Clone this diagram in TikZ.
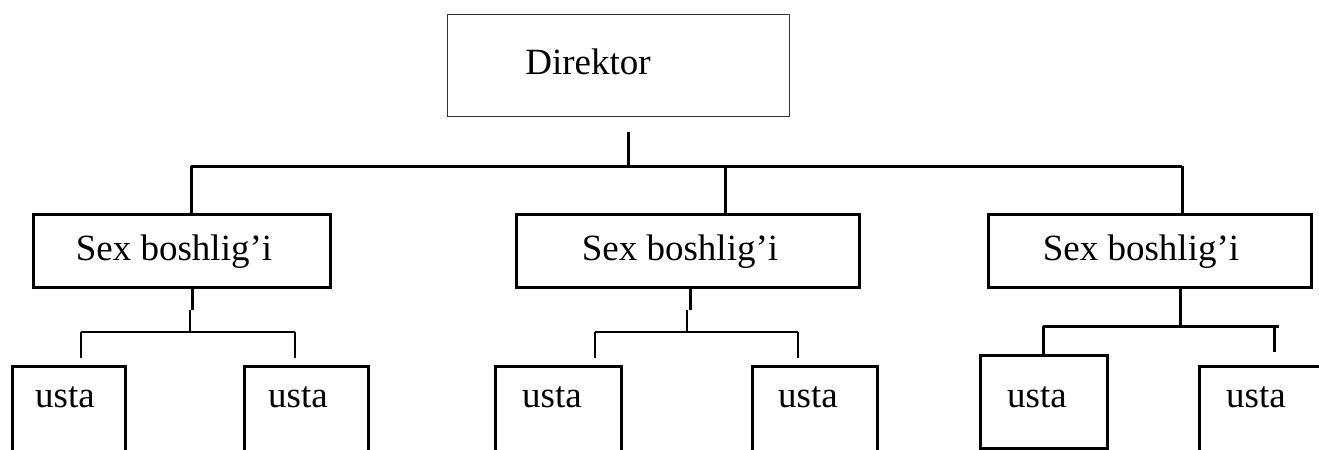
\documentclass[tikz,border=0pt]{standalone}
\usepackage{fontspec}
\setmainfont{Liberation Serif}

\begin{document}
\begin{tikzpicture}[x=0.5pt,y=-0.5pt,
    box/.style={draw,line width=1.5pt,inner sep=0pt},
    txt/.style={anchor=base,inner sep=0pt,font=\fontsize{18.5}{22}\selectfont},
    thickline/.style={line width=1.5pt},
    thinline/.style={line width=0.65pt}]
    \path[use as bounding box] (0,0) rectangle (1319,450);
    \clip (0,0) rectangle (1319,450);
    %% Draw the boxes
    \node[box,draw=black!80,line width=0.5pt,minimum width=171pt,minimum height=51pt] (dir) at (618,65) {};
    \node[box,minimum width=148.5pt,minimum height=36.5pt] (sb1) at (181.5,250.5) {};
    \node[box,minimum width=171.5pt,minimum height=36.5pt] (sb2) at (687.5,250.5) {};
    \node[box,minimum width=161.5pt,minimum height=36.5pt] (sb3) at (1149.5,250.5) {};
    \node[box,minimum width=56.5pt,minimum height=52pt] (us1) at (68.5,418) {};
    \node[box,minimum width=62pt,minimum height=52pt] (us2) at (306,418) {};
    \node[box,minimum width=63pt,minimum height=52pt] (us3) at (558,418) {};
    \node[box,minimum width=62.5pt,minimum height=52pt] (us4) at (814.5,418) {};
    \node[box,minimum width=63.5pt,minimum height=46.5pt] (us5) at (1043.5,401.5) {};
    \node[box,minimum width=70.5pt,minimum height=52pt] (us6) at (1269.5,418) {};
    %% Draw the texts
    \node[txt] (dirt) at (588,74) {Direktor};
    \node[txt] (sb1t) at (174,260) {Sex boshlig’i};
    \node[txt] (sb2t) at (680,260) {Sex boshlig’i};
    \node[txt] (sb3t) at (1141,260) {Sex boshlig’i};
    \node[txt] (us1t) at (65,407) {usta};
    \node[txt] (us2t) at (298,407) {usta};
    \node[txt] (us3t) at (552,407) {usta};
    \node[txt] (us4t) at (808,407) {usta};
    \node[txt] (us5t) at (1037,407) {usta};
    \node[txt] (us6t) at (1256,407) {usta};
    %% Draw the junctions
    \coordinate (top) at (628,132);
    \coordinate (bus) at (628,166);
    \coordinate (bl) at (191,166);
    \coordinate (bm) at (725,166);
    \coordinate (br) at (1182,166);
    \coordinate (s1) at (192,287);
    \coordinate (k1) at (192,310);
    \coordinate (s2) at (690,287);
    \coordinate (k2) at (690,310);
    \coordinate (k3) at (1180,326);
    \coordinate (l1) at (81,332);
    \coordinate (r1) at (295,332);
    \coordinate (l2) at (595,332);
    \coordinate (r2) at (798,332);
    \coordinate (l3) at (1043,326);
    \coordinate (r3) at (1279,326);
    \coordinate (d3) at (1274,326);
    %% Draw the edges
    \begin{scope}[every path/.style={thickline}]
      \draw (top) -- (bus);
      \draw (bl) -- (br);
      \draw (bl) -- (bl |- sb1.north);
      \draw (bm) -- (bm |- sb2.north);
      \draw (br) -- (br |- sb3.north);
      \draw (s1) -- (k1);
      \draw (s2) -- (k2);
      \draw (k3 |- sb3.south) -- (k3);
      \draw (l3) -- (r3);
      \draw (l3) -- (l3 |- us5.north);
      \draw (d3) -- ++(0,26);
    \end{scope}
    \begin{scope}[every path/.style={thinline}]
      \draw ([xshift=-1pt]k1) -- ([xshift=-1pt]k1 |- l1);
      \draw (l1) -- (r1);
      \draw (l1) -- ++(0,26);
      \draw (r1) -- ++(0,26);
      \draw ([xshift=-1.5pt]k2) -- ([xshift=-1.5pt]k2 |- l2);
      \draw (l2) -- (r2);
      \draw (l2) -- ++(0,26);
      \draw (r2) -- ++(0,26);
    \end{scope}
  \end{tikzpicture}
\end{document}
